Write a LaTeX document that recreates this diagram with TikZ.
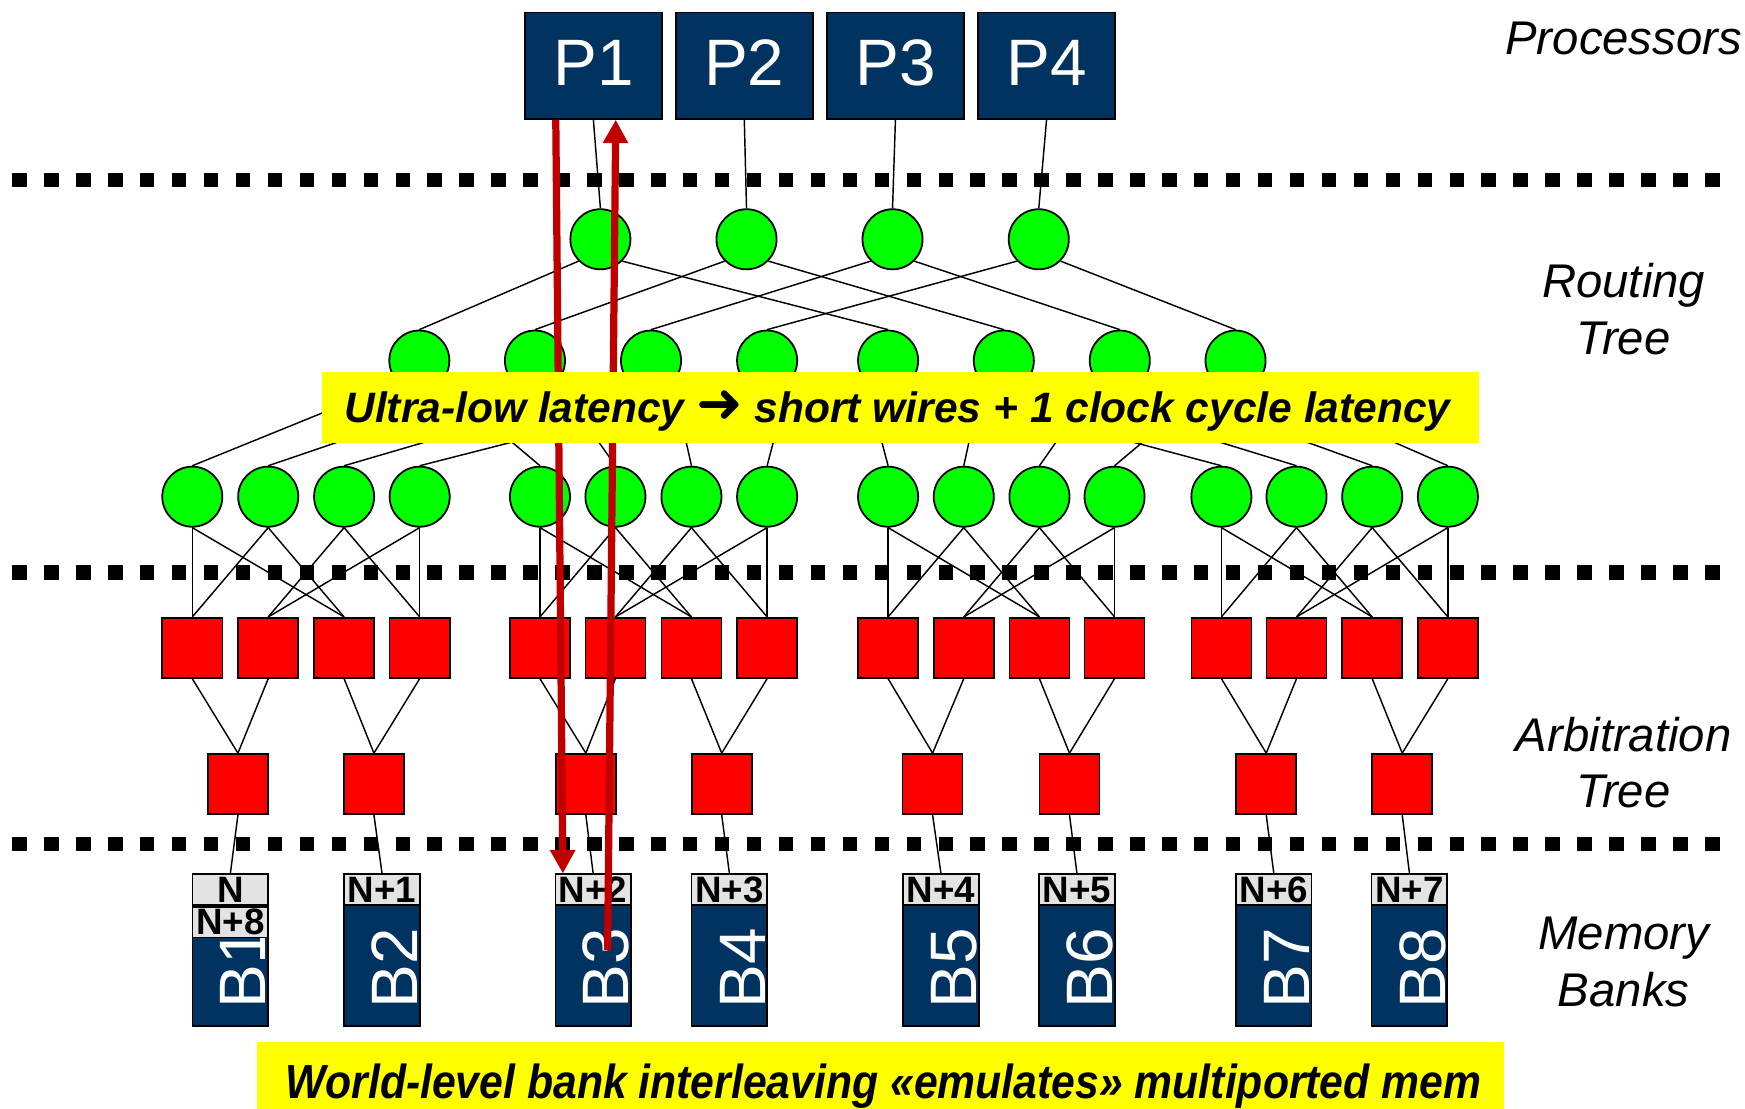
\documentclass[tikz,border=0pt]{standalone}
\usepackage{fontspec}
\setmainfont{Liberation Sans}
\newfontfamily\arrowfont{DejaVu Sans}
\usetikzlibrary{arrows.meta,calc}

\definecolor{navy}{HTML}{003360}
\definecolor{leaf}{HTML}{00FF00}
\definecolor{arbred}{HTML}{FF0000}
\definecolor{pathred}{HTML}{C00000}
\definecolor{cellgray}{HTML}{E3E3E3}
\definecolor{hilite}{HTML}{FFFF00}

\begin{document}
\begin{tikzpicture}[x=1pt,y=-1pt,
  proc/.style={rectangle, draw=black, line width=1.5pt, fill=navy,
    minimum width=123pt, minimum height=95.5pt, inner sep=0pt,
    text height=42pt, text depth=6pt,
    text=white, font=\fontsize{59}{60}\selectfont},
  router/.style={circle, draw=black, line width=1.6pt, fill=leaf,
    minimum size=54pt, inner sep=0pt},
  arbiter/.style={rectangle, draw=black, line width=1.5pt, fill=arbred,
    minimum size=54pt, inner sep=0pt},
  bankbox/.style={rectangle, draw=black, line width=1.5pt, fill=navy,
    minimum width=68pt, minimum height=136.4pt, inner sep=0pt},
  addrcell/.style={rectangle, draw=black, line width=1.5pt, fill=cellgray,
    minimum width=68pt, minimum height=27.6pt, inner sep=0pt,
    font=\bfseries\fontsize{33}{33}\selectfont},
  banklabel/.style={rotate=90, anchor=base west, inner sep=0pt, text=white,
    font=\fontsize{59}{60}\selectfont},
  wire/.style={line width=1.3pt, draw=black},
  separator/.style={line width=13pt, dash pattern=on 13pt off 15.7pt, draw=black},
  flow/.style={line width=6.5pt, draw=pathred,
    -{Triangle[length=21pt,width=21.5pt]}},
  banner/.style={rectangle, fill=hilite, inner sep=0pt},
  note/.style={anchor=base, inner sep=0pt,
    font=\bfseries\itshape\fontsize{38.2}{40}\selectfont},
  sidelabel/.style={anchor=base, inner sep=0pt,
    font=\itshape\fontsize{42.5}{43}\selectfont}
]
\fill[white] (0,0) rectangle (1568,996.5);
\useasboundingbox (0,0) rectangle (1568,996.5);

% level separators
\draw[separator] (11,161.5) -- (1545.1,161.5);
\draw[separator] (11,514.5) -- (1545.1,514.5);
\draw[separator] (11,758.5) -- (1545.1,758.5);

% processors
\foreach \i/\x in {1/533.2,2/668.8,3/804.6,4/940.4}
  \node[proc] (P\i) at (\x,59.1) {P\i};

% routing tree
\foreach \i/\x in {1/539.5,2/670.8,3/802,4/933.4}
  \node[router] (ra\i) at (\x,215) {};
\foreach \i/\x in {1/376.8,2/480.7,3/585,4/689.3,5/798,6/902,7/1006.2,8/1110.2}
  \node[router] (rb\i) at (\x,324) {};
\foreach \i/\x in {1/172.8,2/241,3/309.2,4/377.1,5/485.2,6/553,7/621.3,8/689.3,
                   9/798,10/866,11/934,12/1001.5,13/1097.5,14/1165,15/1233,16/1301}
  \node[router] (rc\i) at (\x,446.3) {};

% arbitration tree
\foreach \i/\x in {1/172.8,2/241,3/309.2,4/377.1,5/485.2,6/553,7/621.3,8/689.3,
                   9/798,10/866,11/934,12/1001.5,13/1097.5,14/1165,15/1233,16/1301}
  \node[arbiter] (aa\i) at (\x,582.1) {};
\foreach \i/\x in {1/213.8,2/336,3/526.4,4/648.5,5/838,6/961,7/1137.8,8/1260}
  \node[arbiter] (ab\i) at (\x,704.5) {};

% memory banks
\foreach \i/\x/\a in {1/207/N,2/343.3/N+1,3/533/N+2,4/655.4/N+3,
                      5/845.5/N+4,6/967.7/N+5,7/1144.6/N+6,8/1266.5/N+7}{
  \node[bankbox] (bank\i) at (\x,853.8) {};
  \node[addrcell, anchor=north] (cell\i) at (bank\i.north) {\a};
  \node[banklabel] (blab\i) at ($(bank\i.south)+(32,-16.2)$) {B\i};
}
\node[addrcell, anchor=north] (cell1b) at (cell1.south) {N+8};

% processor to first routing level
\foreach \i in {1,...,4}
  \draw[wire] (P\i.south) -- (ra\i.north);

% routing level 1 -> 2
\foreach \i in {1,...,4}{
  \pgfmathtruncatemacro\ij{\i+4}
  \draw[wire] (ra\i.south west) -- (rb\i.north);
  \draw[wire] (ra\i.south east) -- (rb\ij.north);
}

% routing level 2 -> 3
\foreach \i in {1,...,4}{
  \pgfmathtruncatemacro\ij{\i+4}
  \draw[wire] (rb\i.south west) -- (rc\i.north);
  \draw[wire] (rb\i.south east) -- (rc\ij.north);
}
\foreach \i in {5,...,8}{
  \pgfmathtruncatemacro\ij{\i+4}
  \pgfmathtruncatemacro\ik{\i+8}
  \draw[wire] (rb\i.south west) -- (rc\ij.north);
  \draw[wire] (rb\i.south east) -- (rc\ik.north);
}

% routing leaves -> arbiters
\foreach \g in {0,1,2,3}{
  \pgfmathtruncatemacro\ia{4*\g+1}
  \pgfmathtruncatemacro\ib{4*\g+2}
  \pgfmathtruncatemacro\ic{4*\g+3}
  \pgfmathtruncatemacro\id{4*\g+4}
  \draw[wire] (rc\ia.south) -- (aa\ia.north);
  \draw[wire] (rc\ia.south) -- (aa\ic.north);
  \draw[wire] (rc\ib.south) -- (aa\ia.north);
  \draw[wire] (rc\ib.south) -- (aa\ic.north);
  \draw[wire] (rc\ic.south) -- (aa\ib.north);
  \draw[wire] (rc\ic.south) -- (aa\id.north);
  \draw[wire] (rc\id.south) -- (aa\ib.north);
  \draw[wire] (rc\id.south) -- (aa\id.north);
}

% arbiter level 1 -> 2, and on to the banks
\foreach \k in {1,...,8}{
  \pgfmathtruncatemacro\ia{2*\k-1}
  \pgfmathtruncatemacro\ib{2*\k}
  \draw[wire] (aa\ia.south) -- (ab\k.north);
  \draw[wire] (aa\ib.south) -- (ab\k.north);
  \draw[wire] (ab\k.south) -- (bank\k.north);
}

% request and response path between P1 and bank B3
\coordinate (reqA) at ([xshift=-33.8pt]P1.south);
\coordinate (reqB) at ([xshift=-27.2pt]cell3.north);
\coordinate (rspA) at ($(bank3.center)+(13,0)$);
\coordinate (rspB) at ([xshift=20.1pt]P1.south);
\draw[flow] (reqA) -- (reqB);
\draw[flow] (rspA) -- (rspB);

% highlighted notes
\node[banner, minimum width=1040pt, minimum height=64.4pt] (lat) at (809,366.2) {};
\node[note] (latText) at (806.5,379.8)
  {Ultra-low latency {\arrowfont\upshape\mdseries\fontsize{50}{50}\selectfont ➜} short wires + 1 clock cycle latency};
\node[banner, minimum width=1120pt, minimum height=60.5pt] (ilv) at (791,966.3) {};
\node[note, font=\bfseries\itshape\fontsize{38}{40}\selectfont] (ilvText) at (794,986.9)
  {\scalebox{1.01}[1.13]{World-level bank interleaving «emulates» multiported mem}};

% layer names
\node[sidelabel] (lp) at (1459,49.4) {Processors};
\node[sidelabel] (lr1) at (1459,267.2) {Routing};
\node[sidelabel] (lr2) at (1459,318.2) {Tree};
\node[sidelabel] (la1) at (1459,674.9) {Arbitration};
\node[sidelabel] (la2) at (1459,725.9) {Tree};
\node[sidelabel] (lm1) at (1459,853.5) {Memory};
\node[sidelabel] (lm2) at (1459,904.3) {Banks};
\end{tikzpicture}
\end{document}
